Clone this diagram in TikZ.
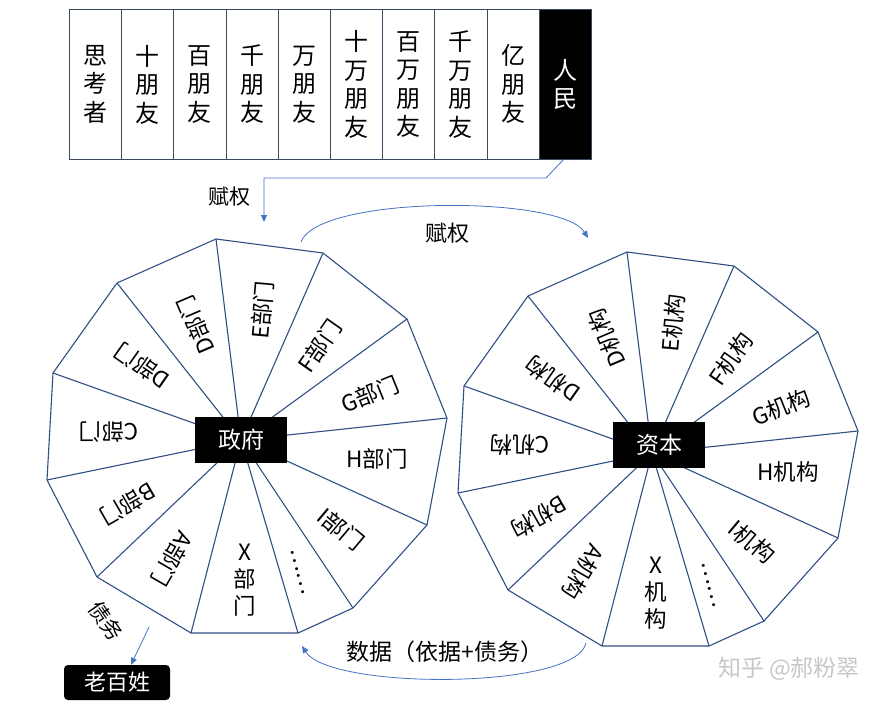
\documentclass[tikz,border=0pt]{standalone}
\usepackage{fontspec}
\setmainfont{Noto Sans CJK SC}
\usetikzlibrary{arrows.meta}
\definecolor{wline}{HTML}{2F4F85}
\definecolor{arr}{HTML}{4472C4}
\definecolor{boxline}{HTML}{3B4A60}
\begin{document}
\begin{tikzpicture}[x=1pt,y=-1pt,
  wedge/.style={draw=wline, line width=1.1pt, line join=round},
  lab/.style={font=\fontsize{22.5}{27}\selectfont, inner sep=0pt, align=center},
  centerbox/.style={fill=black, text=white, font=\fontsize{23}{26}\selectfont, minimum width=92pt, minimum height=46pt, inner sep=0pt},
  cell/.style={draw=boxline, line width=0.8pt, minimum width=52.2pt, minimum height=150pt, inner sep=0pt, font=\fontsize{24}{28.5}\selectfont, align=center, anchor=north west},
  conn/.style={draw=arr, line width=0.8pt, -{Triangle[length=7pt,width=6pt]}},
  plain/.style={font=\fontsize{21}{24}\selectfont, inner sep=0pt}
]
\useasboundingbox (0,0) rectangle (878,707);
\fill[white] (0,0) rectangle (878,707);

% top row
\foreach \t [count=\i from 0] in {思\\考\\者, 十\\朋\\友, 百\\朋\\友, 千\\朋\\友, 万\\朋\\友, 十\\万\\朋\\友, 百\\万\\朋\\友, 千\\万\\朋\\友, 亿\\朋\\友}
  \node[cell] (c\i) at ({69+52.2*\i},9) {\t};
\node[cell, fill=black, text=white] (c9) at ({69+52.2*9},9) {人\\民};

% wheels
\foreach \w/\cx/\cy/\sa/\sb in {L/241/440/部/门, R/652/453/机/构}{
  \begin{scope}[shift={(\cx,\cy)}]
    \coordinate (\w-c) at (0,0);
    \foreach \n/\vx/\vy in {1/-25/-201, 2/82/-187, 3/166/-121, 4/206/-22, 5/186/85, 6/112/168, 7/57/193, 8/-50/193, 9/-144/137, 10/-194/40, 11/-188/-67, 12/-124/-157}
      \coordinate (\w-\n) at (\vx,\vy);
    \draw[wedge] (\w-1) -- (\w-2) -- (\w-3) -- (\w-4) -- (\w-5) -- (\w-6) -- (\w-7) -- (\w-8) -- (\w-9) -- (\w-10) -- (\w-11) -- (\w-12) -- cycle;
    \foreach \n in {1,...,12}
      \draw[wedge] (\w-c) -- (\w-\n);
    \node[lab, rotate=85]  (\w-lE) at (21,-130) {E\sa\sb};
    \node[lab, rotate=55]  (\w-lF) at (79,-94) {F\sa\sb};
    \node[lab, rotate=22]  (\w-lG) at (129,-46) {G\sa\sb};
    \node[lab]             (\w-lH) at (136,19) {H\sa\sb};
    \node[lab, rotate=-40] (\w-lI) at (100,89) {I\sa\sb};
    \node[lab, rotate=-75] (\w-ld) at (57,132) {……};
    \node[lab]             (\w-lX) at (4,140) {X\\\sa\\\sb};
    \node[lab, rotate=-120] (\w-lA) at (-69,119) {A\sa\sb};
    \node[lab, rotate=-150] (\w-lB) at (-113,64) {B\sa\sb};
    \node[lab, rotate=180] (\w-lC) at (-132,-8) {C\sa\sb};
    \node[lab, rotate=145] (\w-lD) at (-99,-74) {D\sa\sb};
    \node[lab, rotate=113] (\w-lD2) at (-45,-115) {D\sa\sb};
  \end{scope}
}
\node[centerbox] (gov) at (241,440) {政府};
\node[centerbox] (cap) at (659,445) {资本};

% connector from people
\coordinate (p1) at (546,178);
\coordinate (p2) at (264,178);
\coordinate (p3) at (264,222);
\draw[conn] ([xshift=-2pt]c9.south) -- (p1) -- (p2) -- (p3);
\node[plain] (t1) at (229,197) {赋权};

% top arc
\coordinate (a1) at (301,242);
\coordinate (a2) at (588,238);
\draw[conn] (a1) .. controls (318,195) and (562,195) .. (a2);
\node[plain, font=\fontsize{22}{24}\selectfont] (t2) at (447,233) {赋权};

% bottom arc
\coordinate (b1) at (586,643);
\coordinate (b2) at (302,646);
\draw[conn] (b1) .. controls (576,690) and (330,690) .. (b2);
\node[plain, font=\fontsize{23}{26}\selectfont] (t3) at (445,652) {数据（依据+债务）};

% debt
\node[plain, rotate=-55] (t4) at (106,621) {债务};
\node[fill=black, text=white, rounded corners=4pt, minimum width=106pt, minimum height=35pt, inner sep=0pt, font=\fontsize{22}{24}\selectfont] (folk) at (117,682.5) {老百姓};
\coordinate (d1) at (149,627);
\draw[conn] (d1) -- (folk.north -| 131,0);

% watermark
\node[text=black!22, font=\fontsize{23}{26}\selectfont, inner sep=0pt] (wm) at (789,669) {知乎 @郝粉翠};
\end{tikzpicture}
\end{document}
